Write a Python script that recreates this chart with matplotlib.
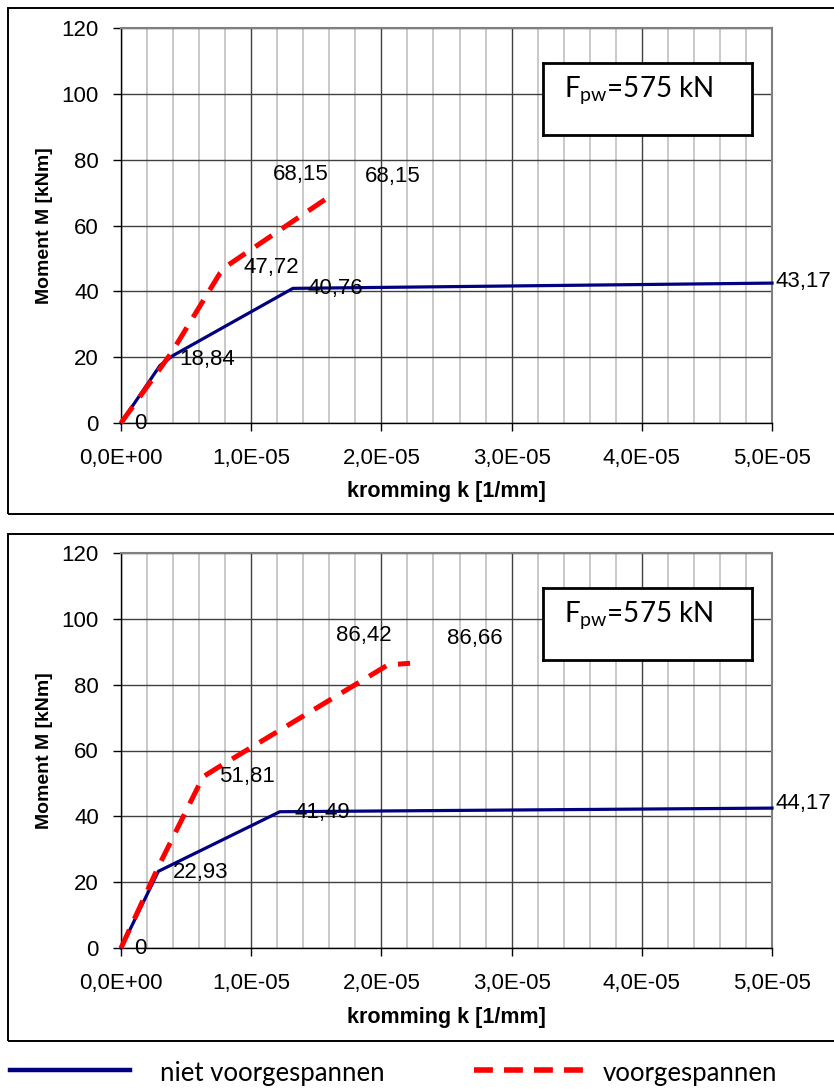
import matplotlib
matplotlib.use("Agg")
import matplotlib.pyplot as plt
from matplotlib.patches import Rectangle
from matplotlib.lines import Line2D
from matplotlib.ticker import MultipleLocator, FuncFormatter

# ---------------- data ----------------
# top panel
top_blue_k = [0.0, 3.0e-6, 4.0e-6, 1.32e-5, 5.0e-5]
top_blue_M = [0.0, 17.5, 20.5, 40.9, 42.5]
top_red_k = [0.0, 3.9e-6, 7.6e-6, 8.2e-6, 1.59e-5]
top_red_M = [0.0, 21.5, 45.5, 47.9, 68.5]
top_labels = ["0", "18,84", "47,72", "40,76", "68,15", "68,15", "43,17"]
top_label_k = [1.0e-6, 4.5e-6, 9.4e-6, 1.43e-5, 1.17e-5, 1.875e-5, 5.03e-5]
top_label_M = [-0.3, 19.2, 47.3, 40.9, 75.6, 74.9, 43.0]

# bottom panel
bot_blue_k = [0.0, 2.87e-6, 1.22e-5, 5.0e-5]
bot_blue_M = [0.0, 23.3, 41.4, 42.5]
bot_red_k = [0.0, 2.87e-6, 6.3e-6, 7.35e-6, 2.05e-5, 2.22e-5]
bot_red_M = [0.0, 24.7, 52.0, 54.6, 86.0, 86.5]
bot_labels = ["0", "22,93", "51,81", "41,49", "86,42", "86,66", "44,17"]
bot_label_k = [1.0e-6, 3.95e-6, 7.55e-6, 1.33e-5, 1.65e-5, 2.505e-5, 5.03e-5]
bot_label_M = [-0.3, 22.8, 52.2, 41.3, 94.8, 93.9, 44.0]

box_text = r"F$_{\mathrm{pw}}$=575 kN"
legend_labels = ["niet voorgespannen", "voorgespannen"]
xlabel = "kromming k [1/mm]"
ylabel = "Moment M [kNm]"

BLUE = "#000080"
RED = "#FF0000"

plt.rcParams["font.family"] = ["Liberation Sans", "DejaVu Sans"]
plt.rcParams["mathtext.fontset"] = "custom"
plt.rcParams["mathtext.rm"] = "Lato"
plt.rcParams["mathtext.it"] = "Lato"

W, H = 834, 1089
fig = plt.figure(figsize=(W / 100, H / 100), dpi=100)


def fx(px):
    return px / W


def fy(py):
    return 1 - py / H


def sci_fmt(v, pos):
    s = "%.1E" % v
    mant, exp = s.split("E")
    sign = exp[0]
    e = int(exp[1:])
    return "%sE%s%02d" % (mant.replace(".", ","), sign, e)


def panel(y_top_px, y_bot_px, ax_top_px, ax_bot_px,
          bk, bM, rk, rM, labels, lk, lM, box_top_px):
    # panel border
    fig.patches.append(Rectangle((fx(8), fy(y_bot_px)), fx(840 - 8), fy(y_top_px) - fy(y_bot_px),
                                 transform=fig.transFigure, fill=False,
                                 edgecolor="black", linewidth=1.4, clip_on=False))
    ax = fig.add_axes([fx(121), fy(ax_bot_px), fx(772 - 121), fy(ax_top_px) - fy(ax_bot_px)])
    ax.set_xlim(0, 5e-5)
    ax.set_ylim(0, 120)
    ax.xaxis.set_major_locator(MultipleLocator(1e-5))
    ax.xaxis.set_minor_locator(MultipleLocator(2e-6))
    ax.yaxis.set_major_locator(MultipleLocator(20))
    ax.xaxis.set_major_formatter(FuncFormatter(sci_fmt))
    ax.grid(which="minor", axis="x", color="#c0c0c0", linewidth=1.2)
    ax.grid(which="major", axis="x", color="#404040", linewidth=1.0)
    ax.grid(which="major", axis="y", color="#404040", linewidth=1.0)
    ax.set_axisbelow(True)
    for s in ["top", "right"]:
        ax.spines[s].set_color("#808080")
        ax.spines[s].set_linewidth(1.5)
    for s in ["left", "bottom"]:
        ax.spines[s].set_color("black")
        ax.spines[s].set_linewidth(1.0)
    ax.tick_params(which="major", direction="out", length=6, width=1, labelsize=16)
    ax.tick_params(axis="x", which="minor", length=0)
    ax.tick_params(axis="x", pad=12)
    ax.tick_params(axis="y", pad=10)
    ax.set_xlabel(xlabel, fontsize=15.5, fontweight="bold", labelpad=9)
    ax.set_ylabel(ylabel, fontsize=14, fontweight="bold", labelpad=6)

    ax.plot(bk, bM, color=BLUE, linewidth=2.3, clip_on=False, zorder=3)
    ax.plot(rk, rM, color=RED, linewidth=3.6, dashes=(4.0, 2.4), clip_on=False, zorder=4)

    for t, k, m in zip(labels, lk, lM):
        ax.text(k, m, t, fontsize=16, ha="left", va="center", clip_on=False, zorder=5)

    # F_pw box
    bx = fig.add_axes([fx(543), fy(box_top_px + 72), fx(752 - 543), fy(box_top_px) - fy(box_top_px + 72)])
    bx.set_xticks([])
    bx.set_yticks([])
    for s in bx.spines.values():
        s.set_linewidth(2.0)
        s.set_color("black")
    bx.set_facecolor("white")
    bx.text(0.1, 0.63, box_text, fontsize=20, family=["Lato", "DejaVu Sans"],
            color="black", ha="left", va="center", transform=bx.transAxes)
    return ax


panel(8, 514, 28, 423, top_blue_k, top_blue_M, top_red_k, top_red_M,
      top_labels, top_label_k, top_label_M, 63)
panel(534, 1041, 553, 948, bot_blue_k, bot_blue_M, bot_red_k, bot_red_M,
      bot_labels, bot_label_k, bot_label_M, 588)

# legend at bottom
ly = fy(1070)
fig.lines.append(Line2D([fx(10), fx(130)], [ly, ly], transform=fig.transFigure,
                        color=BLUE, linewidth=3.2))
fig.lines.append(Line2D([fx(474), fx(592)], [ly, ly], transform=fig.transFigure,
                        color=RED, linewidth=4.0, dashes=(3.4, 2.0)))
fig.text(fx(160), fy(1073), legend_labels[0], fontsize=18.5, family=["Lato", "DejaVu Sans"],
         color="black", ha="left", va="center")
fig.text(fx(603), fy(1073), legend_labels[1], fontsize=18.5, family=["Lato", "DejaVu Sans"],
         color="black", ha="left", va="center")

fig.savefig("out.png", dpi=100)
